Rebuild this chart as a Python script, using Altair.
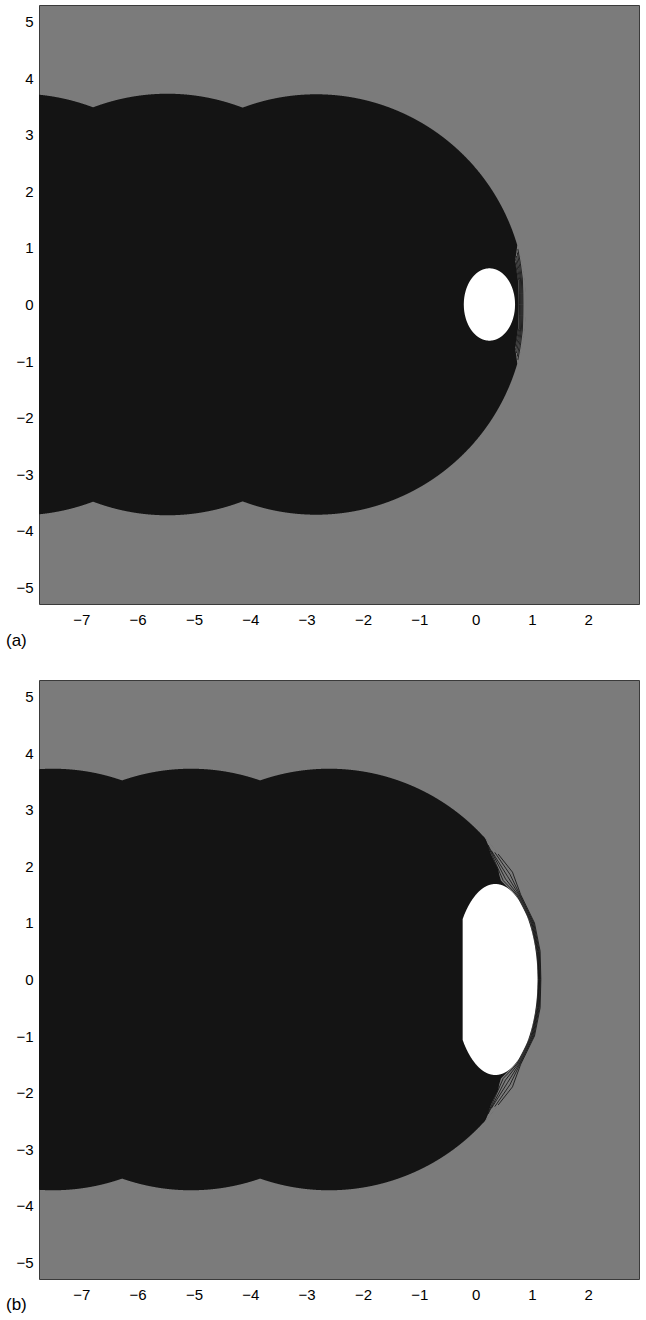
import altair as alt
import numpy as np
import pandas as pd

FONT = "Liberation Sans"
GRAY = "#7b7b7b"
BLACK = "#141414"

X_DOMAIN = [-7.75, 2.9]
Y_DOMAIN = [-5.3, 5.3]
X_TICKS = [-7, -6, -5, -4, -3, -2, -1, 0, 1, 2]
Y_TICKS = [-5, -4, -3, -2, -1, 0, 1, 2, 3, 4, 5]

# ---- panel (a) values ----
A_CIRCLE_CX = [-8.11, -5.47, -2.83]
A_CIRCLE_R = [3.73, 3.73, 3.72]
A_WHITE = {"cx": 0.245, "ax": 0.455, "by": 0.64, "left": -0.21}
# black/gray edge near the white spot (upper half, mirrored)
A_BOUND_Y = [1.05, 0.9, 0.75, 0.6, 0.45, 0.2, 0.0]
A_BOUND_X = [0.74, 0.72, 0.70, 0.725, 0.75, 0.762, 0.765]
# contour polylines (upper half, mirrored about y=0)
A_CONT_X = [
    [0.75, 0.795, 0.83, 0.838, 0.84],
    [0.74, 0.78, 0.812, 0.822, 0.824],
    [0.725, 0.765, 0.797, 0.806, 0.808],
    [0.712, 0.752, 0.782, 0.791, 0.793],
    [0.70, 0.74, 0.768, 0.777, 0.779],
]
A_CONT_Y = [
    [0.98, 0.72, 0.45, 0.20, 0.0],
    [0.92, 0.68, 0.45, 0.20, 0.0],
    [0.86, 0.64, 0.45, 0.20, 0.0],
    [0.80, 0.60, 0.44, 0.20, 0.0],
    [0.75, 0.56, 0.42, 0.20, 0.0],
]

# ---- panel (b) values ----
B_CIRCLE_CX = [-7.5, -5.05, -2.6]
B_CIRCLE_R = [3.73, 3.73, 3.73]
B_WHITE = {"cx": 0.35, "ax": 0.75, "by": 1.69, "left": -0.23}
B_BOUND_Y = [2.55, 2.2, 1.95, 1.85, 1.75, 1.6, 1.5, 1.0, 0.5, 0.0]
B_BOUND_X = [0.15, 0.28, 0.40, 0.42, 0.45, 0.60, 0.71, 0.972, 1.083, 1.113]
B_CONT_X = [
    [0.40, 0.654, 0.80, 1.045, 1.145, 1.158],
    [0.34, 0.61, 0.785, 1.03, 1.13, 1.147],
    [0.28, 0.57, 0.77, 1.015, 1.117, 1.137],
    [0.22, 0.53, 0.75, 1.0, 1.105, 1.127],
    [0.17, 0.49, 0.73, 0.985, 1.093, 1.12],
]
B_CONT_Y = [
    [2.22, 1.90, 1.5, 1.0, 0.5, 0.0],
    [2.25, 1.86, 1.5, 1.0, 0.5, 0.0],
    [2.28, 1.82, 1.5, 1.0, 0.5, 0.0],
    [2.38, 1.78, 1.5, 1.0, 0.5, 0.0],
    [2.48, 1.75, 1.5, 1.0, 0.5, 0.0],
]


def circle_union(cxs, rs):
    xs = np.arange(X_DOMAIN[0], max(c + r for c, r in zip(cxs, rs)) + 0.0005, 0.004)
    top = np.zeros_like(xs)
    for c, r in zip(cxs, rs):
        d = r * r - (xs - c) ** 2
        top = np.maximum(top, np.sqrt(np.clip(d, 0, None)))
    return pd.DataFrame({"x": xs, "top": top, "bot": -top})


def gray_notch(cxs, rs, by, bx):
    c, r = cxs[-1], rs[-1]
    ymax = max(by)
    ys = np.linspace(-ymax, ymax, 500)
    inner = np.interp(np.abs(ys), by[::-1], bx[::-1])
    outer = c + np.sqrt(np.clip(r * r - ys ** 2, 0, None)) + 0.01
    outer = np.maximum(outer, inner)
    return pd.DataFrame({"y": ys, "xa": inner, "xb": outer})


def white_shape(w):
    x0 = max(w["left"], w["cx"] - w["ax"])
    xs = np.linspace(x0, w["cx"] + w["ax"], 400)
    t = np.clip(1 - ((xs - w["cx"]) / w["ax"]) ** 2, 0, None)
    top = w["by"] * np.sqrt(t)
    return pd.DataFrame({"x": xs, "top": top, "bot": -top})


def contours(cx, cy):
    rows = []
    for k, (xs, ys) in enumerate(zip(cx, cy)):
        full_x = list(xs) + list(reversed(xs[:-1]))
        full_y = list(ys) + [-v for v in reversed(ys[:-1])]
        for i, (a, b) in enumerate(zip(full_x, full_y)):
            rows.append({"id": k, "i": i, "x": a, "y": b})
    return pd.DataFrame(rows)


def panel(cxs, rs, white, by, bx, cx, cy, label, title_offset):
    xsc = alt.Scale(domain=X_DOMAIN, nice=False, zero=False)
    ysc = alt.Scale(domain=Y_DOMAIN, nice=False, zero=False)
    xax = alt.Axis(values=X_TICKS, format="d", title=None, grid=False, ticks=False, domain=False,
                   labelFont=FONT, labelFontSize=15, labelColor="black", labelPadding=8,
                   minExtent=24, maxExtent=24)
    yax = alt.Axis(values=Y_TICKS, format="d", title=None, grid=False, ticks=False, domain=False,
                   labelFont=FONT, labelFontSize=15, labelColor="black", labelPadding=6,
                   minExtent=33, maxExtent=33)
    black = alt.Chart(circle_union(cxs, rs)).mark_area(color=BLACK, clip=True).encode(
        x=alt.X("x:Q", scale=xsc, axis=xax),
        y=alt.Y("top:Q", scale=ysc, axis=yax),
        y2="bot:Q",
    )
    notch = alt.Chart(gray_notch(cxs, rs, by, bx)).mark_area(
        color=GRAY, orient="horizontal", clip=True
    ).encode(
        y=alt.Y("y:Q", scale=ysc), x=alt.X("xa:Q", scale=xsc), x2="xb:Q"
    )
    wh = alt.Chart(white_shape(white)).mark_area(color="white", clip=True).encode(
        x=alt.X("x:Q", scale=xsc), y=alt.Y("top:Q", scale=ysc), y2="bot:Q"
    )
    lines = alt.Chart(contours(cx, cy)).mark_line(color="#0d0d0d", strokeWidth=0.8, clip=True).encode(
        x=alt.X("x:Q", scale=xsc), y=alt.Y("y:Q", scale=ysc), detail="id:N", order="i:Q"
    )
    return alt.layer(black, notch, wh, lines).properties(
        width=600, height=599,
        title=alt.TitleParams(label, orient="bottom", anchor="start", frame="bounds",
                              offset=title_offset, font=FONT, fontSize=17,
                              fontWeight="normal", color="black"),
    )


pa = panel(A_CIRCLE_CX, A_CIRCLE_R, A_WHITE, A_BOUND_Y, A_BOUND_X, A_CONT_X, A_CONT_Y, "(a)", 5)
pb = panel(B_CIRCLE_CX, B_CIRCLE_R, B_WHITE, B_BOUND_Y, B_BOUND_X, B_CONT_X, B_CONT_Y, "(b)", -6)

chart = alt.vconcat(pa, pb, spacing=29).properties(
    padding={"left": 5, "top": 4, "right": 5, "bottom": 0}
).configure(background="white", view=alt.ViewConfig(fill=GRAY, stroke="#3a3a3a", strokeWidth=1))

chart.save("out.html", embed_options={"renderer": "svg", "actions": False})
